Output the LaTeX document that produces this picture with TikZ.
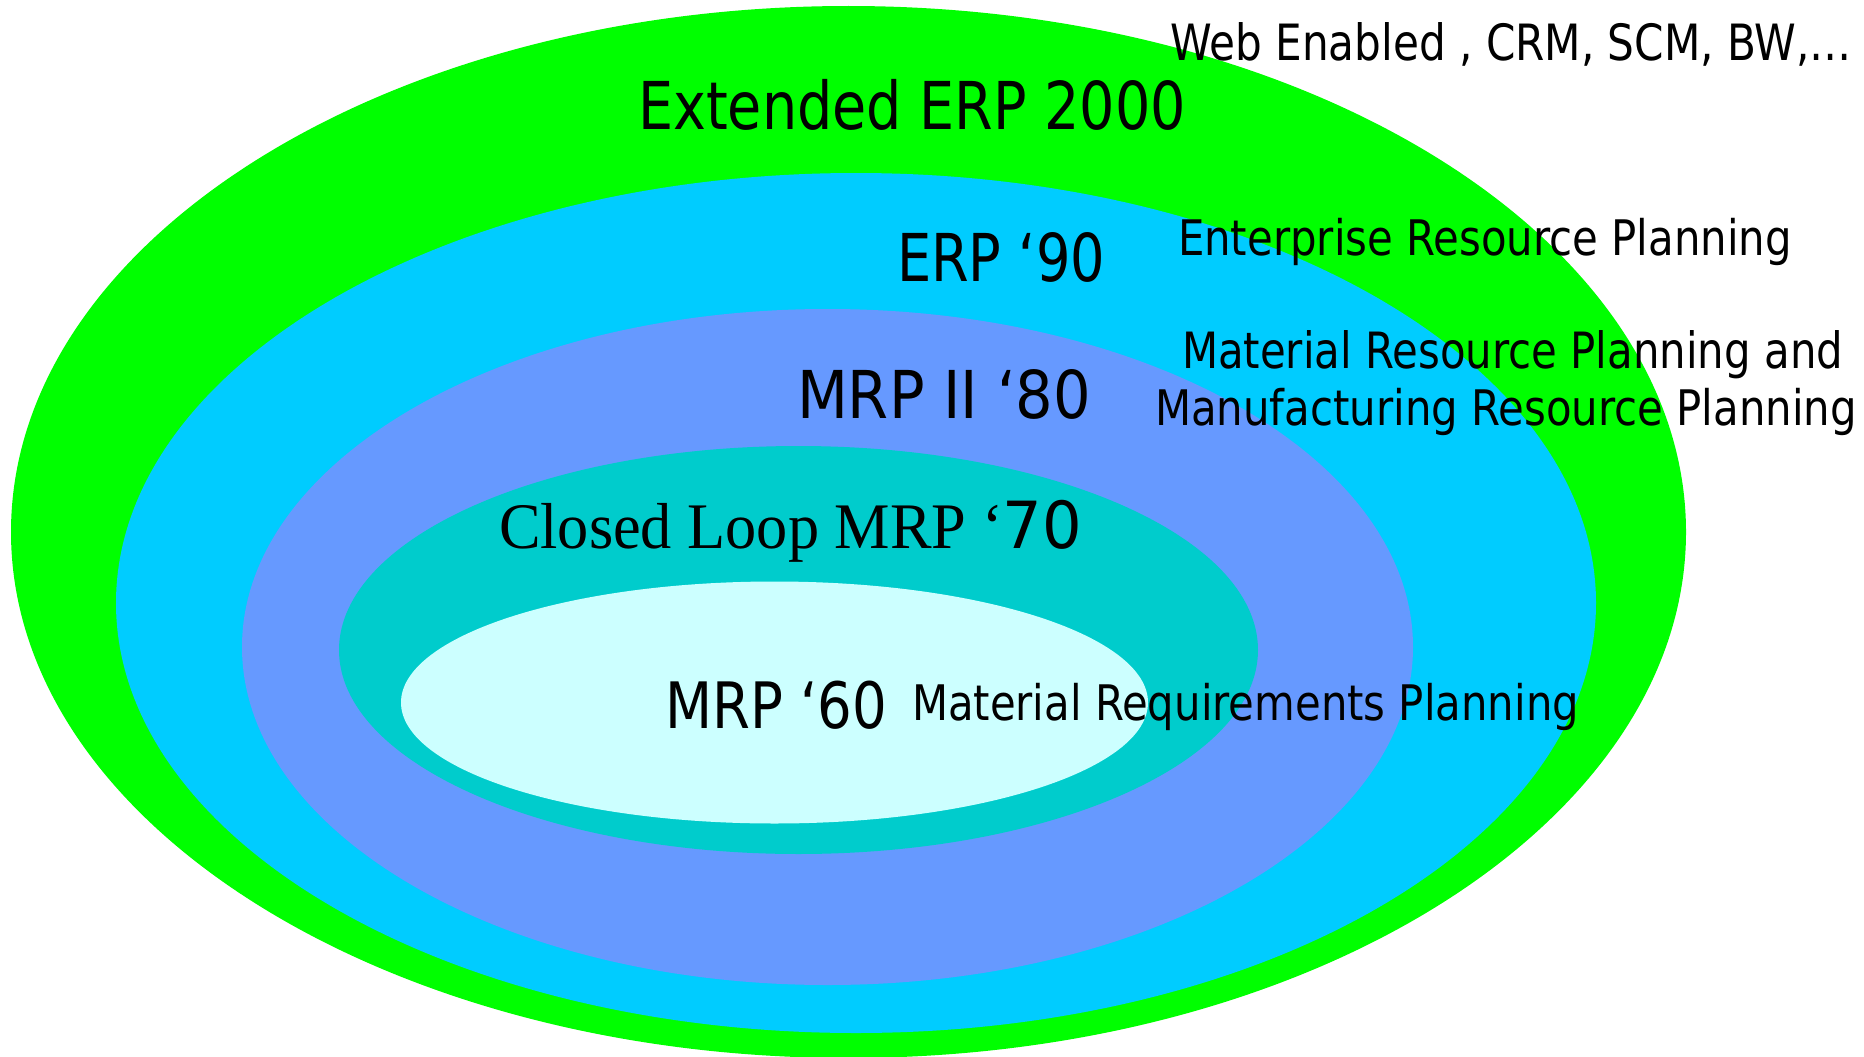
\documentclass[tikz,border=0pt]{standalone}
\usepackage{fontspec}
\usepackage{graphicx}
\setmainfont{DejaVu Sans}
\newfontfamily\serifface{Liberation Serif}
\newfontfamily\sansface{DejaVu Sans}

\definecolor{ringA}{HTML}{00FF00}
\definecolor{ringB}{HTML}{00CCFF}
\definecolor{ringC}{HTML}{6699FF}
\definecolor{ringD}{HTML}{00CCCC}
\definecolor{ringE}{HTML}{CCFFFF}

% #1 = target width, #2 = font size, #3 = text
\newcommand\fitlabel[3]{\resizebox{#1}{\height}{\fontsize{#2}{#2}\selectfont #3}}

\tikzset{
  era/.style={inner sep=0pt, outer sep=0pt, anchor=base west, text=black},
}

\begin{document}
\begin{tikzpicture}[x=1pt, y=-1pt]
  \useasboundingbox (0,0) rectangle (1864,1057);
  \fill[white] (0,0) rectangle (1864,1057);

  % nested generations, outermost first
  \begin{scope}
    \clip (0,0) rectangle (1864,1057);
    \fill[ringA] (848.5,532)   ellipse [x radius=837.5, y radius=526];
    \fill[ringB] (856,603)     ellipse [x radius=740,   y radius=430];
    \fill[ringC] (827.5,647)   ellipse [x radius=585.5, y radius=338];
    \fill[ringD] (798.5,650)   ellipse [x radius=459.5, y radius=204];
    \fill[ringE] (774.5,702.5) ellipse [x radius=373.5, y radius=121];
  \end{scope}

  % generation titles
  \node[era] (ext)  at (638,129) {\fitlabel{548pt}{66pt}{Extended ERP 2000}};
  \node[era] (erp)  at (897,281) {\fitlabel{208pt}{66pt}{ERP ‘90}};
  \node[era] (mrp2) at (797,418) {\fitlabel{294pt}{66pt}{MRP II ‘80}};
  \node[era] (clmrp) at (499,548) {\resizebox{583pt}{\height}{\fontsize{65pt}{65pt}\selectfont
      {\serifface Closed Loop MRP ‘}{\sansface 70}}};
  \node[era] (mrp)  at (665,728) {\fitlabel{222pt}{64pt}{MRP ‘60}};

  % descriptions
  \node[era] (web)  at (1170,60)  {\fitlabel{682pt}{50pt}{Web Enabled , CRM, SCM, BW,…}};
  \node[era] (ent)  at (1178,255) {\fitlabel{614pt}{49pt}{Enterprise Resource Planning}};
  \node[era] (matres) at (1182,368) {\fitlabel{661pt}{50pt}{Material Resource Planning and}};
  \node[era] (manu) at (1155,425) {\fitlabel{702pt}{49pt}{Manufacturing Resource Planning}};
  \node[era] (matreq) at (912,720) {\fitlabel{667pt}{49pt}{Material Requirements Planning}};
\end{tikzpicture}
\end{document}
